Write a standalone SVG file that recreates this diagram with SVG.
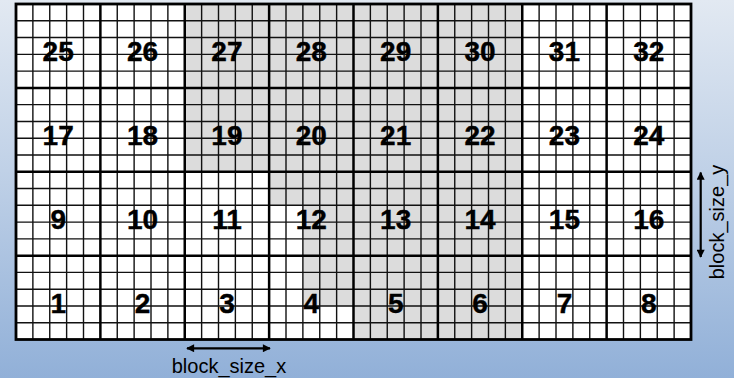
<svg xmlns="http://www.w3.org/2000/svg" width="734" height="378" viewBox="0 0 734 378">
  <defs>
    <linearGradient id="bg" x1="0" y1="0" x2="0" y2="1">
      <stop offset="0" stop-color="#e2e9f2"/>
      <stop offset="0.45" stop-color="#c0d1e7"/>
      <stop offset="1" stop-color="#91b0d8"/>
    </linearGradient>
    <marker id="ah" viewBox="0 0 10 10" refX="9" refY="5" markerWidth="4" markerHeight="3.6" orient="auto-start-reverse">
      <path d="M0,0 L10,5 L0,10 Z" fill="#000"/>
    </marker>
    <style>
      .num { font-family: "Liberation Sans", Arial, sans-serif; font-weight: bold; font-size: 28px; fill: #000; text-anchor: middle; stroke: #000; stroke-width: 0.4; }
      .lbl { font-family: "Liberation Sans", Arial, sans-serif; font-size: 20px; fill: #000; text-anchor: middle; }
      .thin { stroke: #111; stroke-width: 1.4; fill: none; }
      .thick { stroke: #000; stroke-width: 2.5; fill: none; }
      .arrow { stroke: #000; stroke-width: 2.2; fill: none; }
    </style>
  </defs>
  <rect x="0" y="0" width="734" height="378" fill="url(#bg)"/>
  <g id="grid">
    <rect x="16" y="4" width="675" height="335.5" fill="#ffffff"/>
    <polygon points="184.75,4 522.25,4 522.25,339.5 353.5,339.5 353.5,305.95 302.875,305.95 302.875,205.3 269.125,205.3 269.125,171.75 184.75,171.75" fill="#dcdcdc"/>
    <path class="thin" d="M32.875,4V339.5 M49.75,4V339.5 M66.625,4V339.5 M83.5,4V339.5 M117.25,4V339.5 M134.125,4V339.5 M151,4V339.5 M167.875,4V339.5 M201.625,4V339.5 M218.5,4V339.5 M235.375,4V339.5 M252.25,4V339.5 M286,4V339.5 M302.875,4V339.5 M319.75,4V339.5 M336.625,4V339.5 M370.375,4V339.5 M387.25,4V339.5 M404.125,4V339.5 M421,4V339.5 M454.75,4V339.5 M471.625,4V339.5 M488.5,4V339.5 M505.375,4V339.5 M539.125,4V339.5 M556,4V339.5 M572.875,4V339.5 M589.75,4V339.5 M623.5,4V339.5 M640.375,4V339.5 M657.25,4V339.5 M674.125,4V339.5 M16,20.775H691 M16,37.55H691 M16,54.325H691 M16,71.1H691 M16,104.65H691 M16,121.425H691 M16,138.2H691 M16,154.975H691 M16,188.525H691 M16,205.3H691 M16,222.075H691 M16,238.85H691 M16,272.4H691 M16,289.175H691 M16,305.95H691 M16,322.725H691"/>
    <path class="thick" d="M100.375,4V339.5 M184.75,4V339.5 M269.125,4V339.5 M353.5,4V339.5 M437.875,4V339.5 M522.25,4V339.5 M606.625,4V339.5 M16,87.875H691 M16,171.75H691 M16,255.625H691"/>
    <rect x="16" y="4" width="675" height="335.5" fill="none" stroke="#000" stroke-width="2.8"/>
  </g>
  <g id="labels">
    <g id="b25"><text class="num" x="58.19" y="61">25</text></g>
    <g id="b26"><text class="num" x="142.56" y="61">26</text></g>
    <g id="b27"><text class="num" x="226.94" y="61">27</text></g>
    <g id="b28"><text class="num" x="311.31" y="61">28</text></g>
    <g id="b29"><text class="num" x="395.69" y="61">29</text></g>
    <g id="b30"><text class="num" x="480.06" y="61">30</text></g>
    <g id="b31"><text class="num" x="564.44" y="61">31</text></g>
    <g id="b32"><text class="num" x="648.81" y="61">32</text></g>
    <g id="b17"><text class="num" x="58.19" y="145">17</text></g>
    <g id="b18"><text class="num" x="142.56" y="145">18</text></g>
    <g id="b19"><text class="num" x="226.94" y="145">19</text></g>
    <g id="b20"><text class="num" x="311.31" y="145">20</text></g>
    <g id="b21"><text class="num" x="395.69" y="145">21</text></g>
    <g id="b22"><text class="num" x="480.06" y="145">22</text></g>
    <g id="b23"><text class="num" x="564.44" y="145">23</text></g>
    <g id="b24"><text class="num" x="648.81" y="145">24</text></g>
    <g id="b9"><text class="num" x="58.19" y="228.6">9</text></g>
    <g id="b10"><text class="num" x="142.56" y="228.6">10</text></g>
    <g id="b11"><text class="num" x="226.94" y="228.6">11</text></g>
    <g id="b12"><text class="num" x="311.31" y="228.6">12</text></g>
    <g id="b13"><text class="num" x="395.69" y="228.6">13</text></g>
    <g id="b14"><text class="num" x="480.06" y="228.6">14</text></g>
    <g id="b15"><text class="num" x="564.44" y="228.6">15</text></g>
    <g id="b16"><text class="num" x="648.81" y="228.6">16</text></g>
    <g id="b1"><text class="num" x="58.19" y="313">1</text></g>
    <g id="b2"><text class="num" x="142.56" y="313">2</text></g>
    <g id="b3"><text class="num" x="226.94" y="313">3</text></g>
    <g id="b4"><text class="num" x="311.31" y="313">4</text></g>
    <g id="b5"><text class="num" x="395.69" y="313">5</text></g>
    <g id="b6"><text class="num" x="480.06" y="313">6</text></g>
    <g id="b7"><text class="num" x="564.44" y="313">7</text></g>
    <g id="b8"><text class="num" x="648.81" y="313">8</text></g>
  </g>
  <g id="connectors">
    <line class="arrow" x1="187" y1="348.3" x2="270" y2="348.3" marker-start="url(#ah)" marker-end="url(#ah)"/>
    <line class="arrow" x1="700.7" y1="172.5" x2="700.7" y2="257" marker-start="url(#ah)" marker-end="url(#ah)"/>
  </g>
  <g id="dim-labels">
    <text class="lbl" x="229" y="373.3">block_size_x</text>
    <text class="lbl" transform="translate(724,222) rotate(-90)">block_size_y</text>
  </g>
</svg>
